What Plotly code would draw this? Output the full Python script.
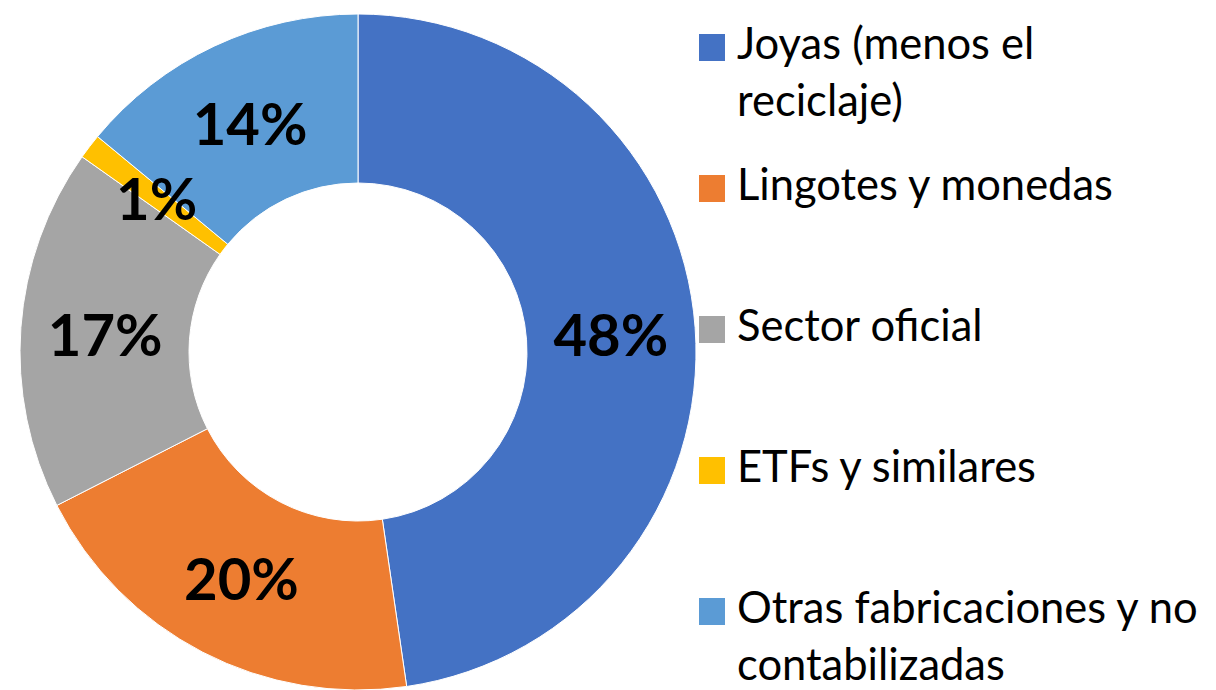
import math
import plotly.graph_objects as go

categories = ["Joyas (menos el reciclaje)", "Lingotes y monedas", "Sector oficial",
              "ETFs y similares", "Otras fabricaciones y no contabilizadas"]
legend_labels = ["Joyas (menos el<br>reciclaje)", "Lingotes y monedas", "Sector oficial",
                 "ETFs y similares", "Otras fabricaciones y no<br>contabilizadas"]
values = [47.7, 19.8, 17.3, 1.2, 14.0]
colors = ["#4472C4", "#ED7D31", "#A5A5A5", "#FFC000", "#5B9BD5"]

W, H = 1216, 690
FONT = "Lato"
LABEL_SIZE = 58

# pie geometry (pixels)
dom_x = [20, 696]
dom_y = [14, 690]
HOLE = 0.5

# slices too thin to hold their label inside get an annotation at mid-ring
small = [v / sum(values) < 0.03 for v in values]
textpos = ["none" if s else "inside" for s in small]

fig = go.Figure()
fig.add_trace(go.Pie(
    labels=categories,
    values=values,
    sort=False,
    direction="clockwise",
    rotation=0,
    hole=HOLE,
    marker=dict(colors=colors, line=dict(color="white", width=1)),
    texttemplate="%{percent:.0%}",
    textposition=textpos,
    insidetextorientation="horizontal",
    textfont=dict(family=FONT, size=LABEL_SIZE, color="black", weight="bold"),
    domain=dict(x=[dom_x[0] / W, dom_x[1] / W], y=[1 - dom_y[1] / H, 1 - dom_y[0] / H]),
    showlegend=False,
))

annotations, shapes = [], []

cx = (dom_x[0] + dom_x[1]) / 2
cy = (dom_y[0] + dom_y[1]) / 2
R = (dom_x[1] - dom_x[0]) / 2
r_mid = R * (1 + HOLE) / 2
total = sum(values)
cum = 0
for v, s in zip(values, small):
    mid = (cum + v / 2) / total * 2 * math.pi
    cum += v
    if s:
        px = cx + r_mid * math.sin(mid)
        py = cy - r_mid * math.cos(mid)
        annotations.append(dict(text=f"{round(v / total * 100)}%", xref="paper", yref="paper",
                                x=px / W, y=1 - py / H, xanchor="center", yanchor="middle",
                                showarrow=False,
                                font=dict(family=FONT, size=LABEL_SIZE, color="black",
                                          weight="bold")))

# custom legend (Excel-style large squares)
sq_top0, step, sq_size = 34, 141, 27
for i, (lab, col) in enumerate(zip(legend_labels, colors)):
    top = sq_top0 + i * step
    shapes.append(dict(type="rect", xref="paper", yref="paper",
                       x0=699 / W, x1=725 / W,
                       y0=1 - (top + sq_size) / H, y1=1 - top / H,
                       fillcolor=col, line=dict(width=0)))
    annotations.append(dict(text=lab, xref="paper", yref="paper",
                            x=735 / W, y=1 - (top - 20) / H,
                            xanchor="left", yanchor="top", align="left",
                            showarrow=False,
                            font=dict(family=FONT, size=43.5, color="black")))

fig.update_layout(
    width=W, height=H,
    margin=dict(l=0, r=0, t=0, b=0),
    paper_bgcolor="white", plot_bgcolor="white",
    uniformtext=dict(minsize=LABEL_SIZE, mode="show"),
    shapes=shapes, annotations=annotations,
)

fig.write_html("out.html",
               config=dict(displayModeBar=False),
               post_script="document.body.style.margin='0';document.body.style.overflow='hidden';")
